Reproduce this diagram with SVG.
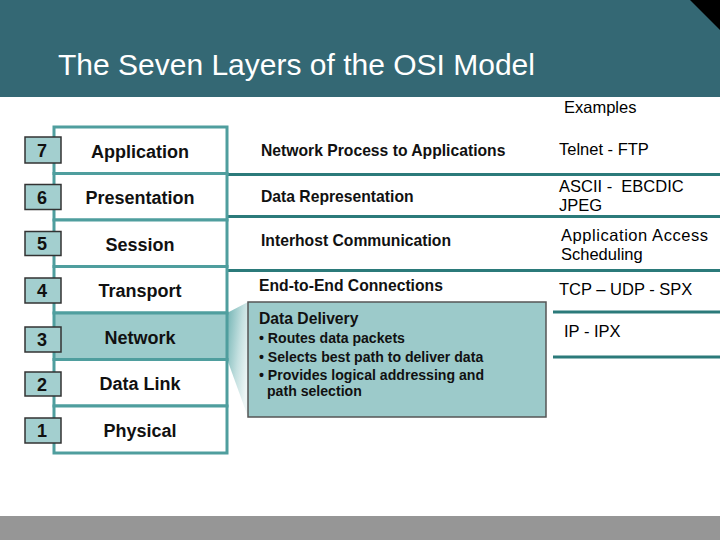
<svg xmlns="http://www.w3.org/2000/svg" width="720" height="540" viewBox="0 0 720 540">
<style>
.num{font-family:"Liberation Sans",Arial,sans-serif;font-weight:bold;font-size:18px;fill:#111;text-anchor:middle}
.nbox{fill:#a3cfcf;stroke:#333;stroke-width:1.5}
.name{font-family:"Liberation Sans",Arial,sans-serif;font-weight:bold;font-size:18px;fill:#111;text-anchor:middle}
.row{fill:#fff;stroke:#4f9e9e;stroke-width:3}
.desc{font-family:"Liberation Sans",Arial,sans-serif;font-weight:bold;font-size:15.7px;fill:#111}
.bul{font-family:"Liberation Sans",Arial,sans-serif;font-weight:bold;font-size:14.1px;fill:#111}
.ex{font-family:"Liberation Sans",Arial,sans-serif;font-size:16.5px;fill:#000}
.sep{stroke:#2b7a7a;stroke-width:3}
</style>
<defs>
<linearGradient id="fun" x1="0" y1="0" x2="1" y2="0.6">
<stop offset="0" stop-color="#6fb2b2"/>
<stop offset="0.6" stop-color="#c4e0e0"/>
<stop offset="1" stop-color="#eef6f6"/>
</linearGradient>
</defs>
<rect width="720" height="540" fill="#fff"/>
<g id="header">
<rect x="0" y="0" width="720" height="97" fill="#346874"/>
<polygon points="690,0 720,0 720,30" fill="#000"/>
<text x="58" y="75" font-family="Liberation Sans,Arial,sans-serif" font-size="30" fill="#fff">The Seven Layers of the OSI Model</text>
</g>
<rect x="0" y="516" width="720" height="24" fill="#969696"/>
<g id="examples-head"><text class="ex" x="564" y="113">Examples</text></g>

<g id="connectors">
<line class="sep" x1="228" y1="174.5" x2="720" y2="174.5"/>
<line class="sep" x1="228" y1="216.5" x2="720" y2="216.5"/>
<line class="sep" x1="228" y1="270.5" x2="720" y2="270.5"/>
<line class="sep" x1="553" y1="312" x2="720" y2="312"/>
<line class="sep" x1="553" y1="357" x2="720" y2="357"/>
<polygon points="227,313 248,302 248,417 227,359" fill="url(#fun)"/>
</g>

<g id="layer7"><rect class="row" x="54" y="127" width="173" height="46.5"/><text class="name" x="140" y="158">Application</text></g>
<g id="layer6"><rect class="row" x="54" y="173.5" width="173" height="46.5"/><text class="name" x="140" y="204">Presentation</text></g>
<g id="layer5"><rect class="row" x="54" y="220" width="173" height="46.5"/><text class="name" x="140" y="250.5">Session</text></g>
<g id="layer4"><rect class="row" x="54" y="266.5" width="173" height="46.5"/><text class="name" x="140" y="297">Transport</text></g>
<g id="layer3"><rect class="row" x="54" y="313" width="173" height="46.5" style="fill:#9ccbcb"/><text class="name" x="140" y="343.5">Network</text></g>
<g id="layer2"><rect class="row" x="54" y="359.5" width="173" height="46.5"/><text class="name" x="140" y="390">Data Link</text></g>
<g id="layer1"><rect class="row" x="54" y="406" width="173" height="47"/><text class="name" x="140" y="437">Physical</text></g>

<g id="num7"><rect class="nbox" x="25" y="137" width="36" height="26"/><text class="num" x="42" y="156.5">7</text></g>
<g id="num6"><rect class="nbox" x="25" y="184.5" width="36" height="25"/><text class="num" x="42" y="203.5">6</text></g>
<g id="num5"><rect class="nbox" x="25" y="231.5" width="36" height="24"/><text class="num" x="42" y="250">5</text></g>
<g id="num4"><rect class="nbox" x="25" y="278" width="36" height="25"/><text class="num" x="42" y="297">4</text></g>
<g id="num3"><rect class="nbox" x="25" y="327" width="36" height="25"/><text class="num" x="42" y="346">3</text></g>
<g id="num2"><rect class="nbox" x="25" y="372" width="36" height="24"/><text class="num" x="42" y="390.5">2</text></g>
<g id="num1"><rect class="nbox" x="25" y="418" width="36" height="25"/><text class="num" x="42" y="437">1</text></g>

<g id="desc7"><text class="desc" x="261" y="156">Network Process to Applications</text></g>
<g id="desc6"><text class="desc" x="261" y="202">Data Representation</text></g>
<g id="desc5"><text class="desc" x="261" y="246">Interhost Communication</text></g>
<g id="desc4"><text class="desc" x="259" y="291">End-to-End Connections</text></g>

<g id="detail">
<rect x="248" y="302" width="298" height="115" fill="#9ccaca" stroke="#555" stroke-width="1.5"/>
<text class="desc" x="259" y="324">Data Delivery</text>
<text class="bul" x="259" y="343">• Routes data packets</text>
<text class="bul" x="259" y="362">• Selects best path to deliver data</text>
<text class="bul" x="259" y="380">• Provides logical addressing and</text>
<text class="bul" x="267" y="396">path selection</text>
</g>

<g id="ex7"><text class="ex" x="559" y="155">Telnet - FTP</text></g>
<g id="ex6"><text class="ex" x="559" y="192" xml:space="preserve">ASCII -  EBCDIC</text><text class="ex" x="559" y="211">JPEG</text></g>
<g id="ex5"><text class="ex" x="561" y="241" textLength="147">Application Access</text><text class="ex" x="561" y="260">Scheduling</text></g>
<g id="ex4"><text class="ex" x="559" y="295">TCP – UDP - SPX</text></g>
<g id="ex3"><text class="ex" x="564" y="337">IP - IPX</text></g>
</svg>
